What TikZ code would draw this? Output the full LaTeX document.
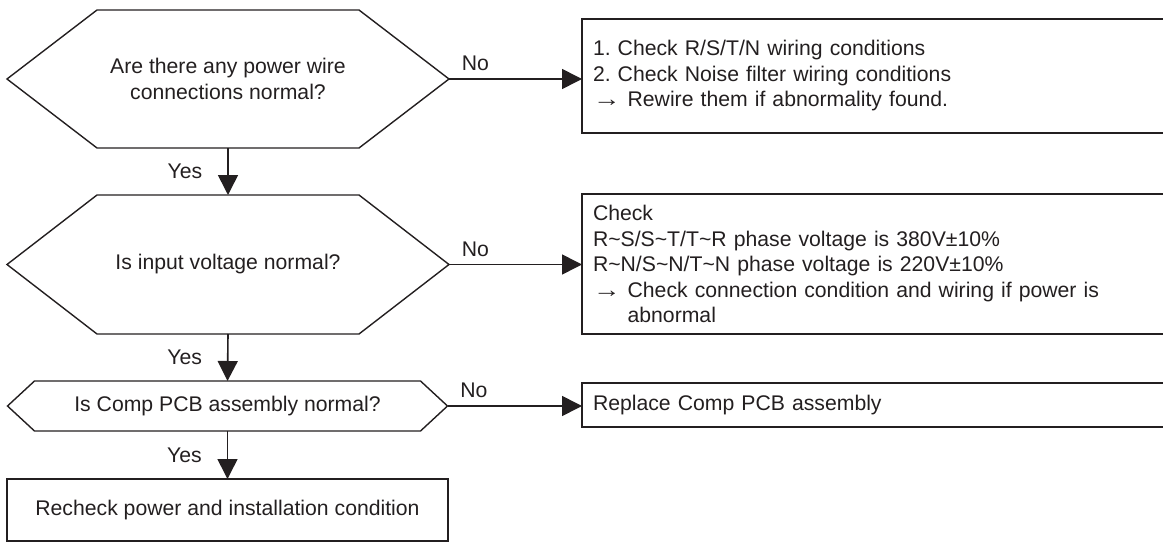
\documentclass[tikz,border=0pt]{standalone}
\usepackage{fontspec}
\usepackage{graphicx}
\setmainfont{Liberation Sans}
\usetikzlibrary{arrows.meta}
\definecolor{ink}{RGB}{35,31,32}
\newcommand{\rarr}{\scalebox{1.3}[1.05]{→}}
\frenchspacing
\begin{document}
\begin{tikzpicture}[x=1pt,y=-1pt,
  every node/.style={text=ink, font=\fontsize{21.2}{25.5}\selectfont},
  hexbox/.style={inner sep=0pt, outer sep=0pt, align=center},
  shapeline/.style={draw=ink, line width=1.4pt, line join=miter},
  box/.style={draw=ink, line width=1.6pt, outer sep=0pt, inner xsep=11pt, inner ysep=0pt,
              text width=566pt, align=left, anchor=north west},
  endbox/.style={draw=ink, line width=1.6pt, outer sep=0pt, inner sep=0pt, align=center},
  arr/.style={draw=ink, line width=1.6pt, -{Triangle[length=20pt,width=20pt]}},
  lbl/.style={inner sep=0pt}]
\useasboundingbox (0,0) rectangle (1163,543);

% decision 1
\node[hexbox, minimum width=262pt, minimum height=138pt] (h1) at (228,79)
  {Are there any power wire\\connections normal?};
\coordinate (h1r) at ([xshift=90pt]h1.east);
\coordinate (h1l) at ([xshift=-90pt]h1.west);
\draw[shapeline] (h1.north west) -- (h1.north east) -- (h1r) -- (h1.south east)
  -- (h1.south west) -- (h1l) -- cycle;

% decision 2
\node[hexbox, minimum width=262pt, minimum height=139pt] (h2) at (228,264.5)
  {Is input voltage normal?};
\coordinate (h2r) at ([xshift=90pt]h2.east);
\coordinate (h2l) at ([xshift=-90pt]h2.west);
\draw[shapeline] (h2.north west) -- (h2.north east) -- (h2r) -- (h2.south east)
  -- (h2.south west) -- (h2l) -- cycle;

% decision 3
\node[hexbox, minimum width=386pt, minimum height=50pt] (h3) at (227.5,406)
  {Is Comp PCB assembly normal?};
\coordinate (h3r) at ([xshift=27pt]h3.east);
\coordinate (h3l) at ([xshift=-27pt]h3.west);
\draw[shapeline] (h3.north west) -- (h3.north east) -- (h3r) -- (h3.south east)
  -- (h3.south west) -- (h3l) -- cycle;

% final box
\node[endbox, minimum width=441pt, minimum height=62pt] (f) at (227.5,510)
  {Recheck power and installation condition};

% action boxes
\node[box, minimum height=114pt] (b1) at (582,19)
  {1. Check R/S/T/N wiring conditions\\
   2. Check Noise filter wiring conditions\\
   \rarr\ Rewire them if abnormality found.};
\node[box, minimum height=140pt] (b2) at (582,194)
  {Check\\
   R\textasciitilde S/S\textasciitilde T/T\textasciitilde R phase voltage is 380V±10\%\\
   R\textasciitilde N/S\textasciitilde N/T\textasciitilde N phase voltage is 220V±10\%\\
   \rarr\ Check connection condition and wiring if power is\\
   \hphantom{\rarr\ }abnormal};
\node[box, minimum height=44pt] (b3) at (582,383)
  {Replace Comp PCB assembly};

% No connectors
\draw[arr] (h1r) -- (h1r -| b1.west)
  node[lbl, pos=0, anchor=south west, xshift=12pt, yshift=7pt] {No};
\draw[arr] (h2r) -- (h2r -| b2.west)
  node[lbl, pos=0, anchor=south west, xshift=12pt, yshift=7pt] {No};
\draw[arr] (h3r) -- (h3r -| b3.west)
  node[lbl, pos=0, anchor=south west, xshift=12pt, yshift=7pt] {No};

% Yes connectors
\draw[arr] (h1.south) -- (h2.north) node[lbl, midway, left=25pt] {Yes};
\draw[arr] (h2.south) -- (h3.north) node[lbl, midway, left=25pt] {Yes};
\draw[arr] (h3.south) -- (f.north) node[lbl, midway, left=25pt] {Yes};
\end{tikzpicture}
\end{document}
